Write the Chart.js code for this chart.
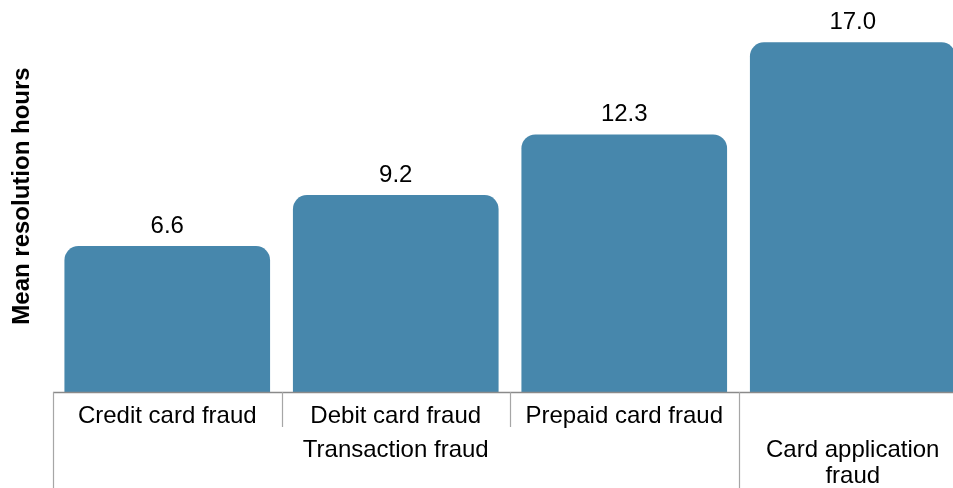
<!DOCTYPE html>
<html>
<head>
<meta charset="utf-8">
<script src="https://cdn.jsdelivr.net/npm/chart.js@4/dist/chart.umd.min.js"></script>
<style>
    html, body { margin: 0; padding: 0; background: #fff; overflow: hidden; }
    #wrap { width: 953px; height: 488px; overflow: hidden; }
</style>
</head>
<body>
<div id="wrap"><canvas id="myChart" width="967" height="488"></canvas></div>
<script>
// data
const categories = ['Credit card fraud', 'Debit card fraud', 'Prepaid card fraud', ''];
const groupLabels = ['Transaction fraud', 'Card application fraud'];
const groupSpans = [3, 1];
const meanHours = [6.6, 9.2, 12.3, 17.0];
const yMin = -0.85;
const yMax = 19.16;

const FONT = "'Liberation Sans', Arial, sans-serif";

// draws value labels and the two-level category axis
const groupAxis = {
    id: 'groupAxis',
    afterDatasetsDraw(chart) {
        const ctx = chart.ctx;
        const x = chart.scales.x;
        const area = chart.chartArea;
        const step = area.width / categories.length;
        ctx.save();

        // value labels
        ctx.font = '24px ' + FONT;
        ctx.fillStyle = '#000';
        ctx.textAlign = 'center';
        ctx.textBaseline = 'alphabetic';
        chart.getDatasetMeta(0).data.forEach(function(bar, i) {
            ctx.fillText(meanHours[i].toFixed(1), bar.x, bar.y - 13);
        });

        // axis line
        ctx.strokeStyle = '#8a8a8a';
        ctx.lineWidth = 1.5;
        ctx.beginPath();
        ctx.moveTo(area.left, area.bottom + 0.5);
        ctx.lineTo(area.right, area.bottom + 0.5);
        ctx.stroke();

        // separators
        ctx.strokeStyle = '#a6a6a6';
        ctx.lineWidth = 1.2;
        let start = 0;
        const groupEdges = [0];
        groupSpans.forEach(function(s) { start += s; groupEdges.push(start); });
        for (let i = 0; i <= categories.length; i++) {
            const px = Math.round(x.getPixelForValue(i) - step / 2) + 0.5;
            const full = groupEdges.indexOf(i) >= 0;
            ctx.beginPath();
            ctx.moveTo(px, area.bottom);
            ctx.lineTo(px, full ? chart.height : area.bottom + 35);
            ctx.stroke();
        }

        // first row labels
        ctx.fillStyle = '#000';
        categories.forEach(function(c, i) {
            ctx.fillText(c, x.getPixelForValue(i), area.bottom + 31);
        });

        // second row labels
        let first = 0;
        groupLabels.forEach(function(g, gi) {
            const span = groupSpans[gi];
            const cx = (x.getPixelForValue(first) + x.getPixelForValue(first + span - 1)) / 2;
            const maxW = span * step - 16;
            const words = g.split(' ');
            const lines = [];
            let line = '';
            words.forEach(function(w) {
                const test = line ? line + ' ' + w : w;
                if (ctx.measureText(test).width > maxW && line) {
                    lines.push(line);
                    line = w;
                } else {
                    line = test;
                }
            });
            lines.push(line);
            lines.forEach(function(l, li) {
                ctx.fillText(l, cx, area.bottom + 65 + li * 26);
            });
            first += span;
        });

        ctx.restore();
    }
};

// setup
const data = {
    labels: categories,
    datasets: [{
        label: 'Mean resolution hours',
        data: meanHours,
        base: yMin,
        backgroundColor: '#4787ac',
        borderRadius: 14,
        borderSkipped: 'start',
        barPercentage: 0.9,
        categoryPercentage: 1.0
    }]
};

// config
const config = {
    type: 'bar',
    data,
    options: {
        responsive: false,
        animation: false,
        layout: { padding: { top: 0, right: 0, bottom: 96, left: 0 } },
        plugins: {
            legend: { display: false },
            tooltip: { enabled: false }
        },
        scales: {
            x: {
                display: false
            },
            y: {
                min: yMin,
                max: yMax,
                ticks: { display: false },
                grid: { display: false },
                border: { display: false },
                title: {
                    display: true,
                    text: 'Mean resolution hours',
                    color: '#000',
                    font: { family: FONT, size: 24, weight: 'bold' },
                    padding: { top: 8, bottom: 0 }
                },
                afterFit: function(scale) { scale.width = 53; }
            }
        }
    },
    plugins: [groupAxis]
};

// render init block
const myChart = new Chart(
    document.getElementById('myChart'),
    config
);
</script>
</body>
</html>
